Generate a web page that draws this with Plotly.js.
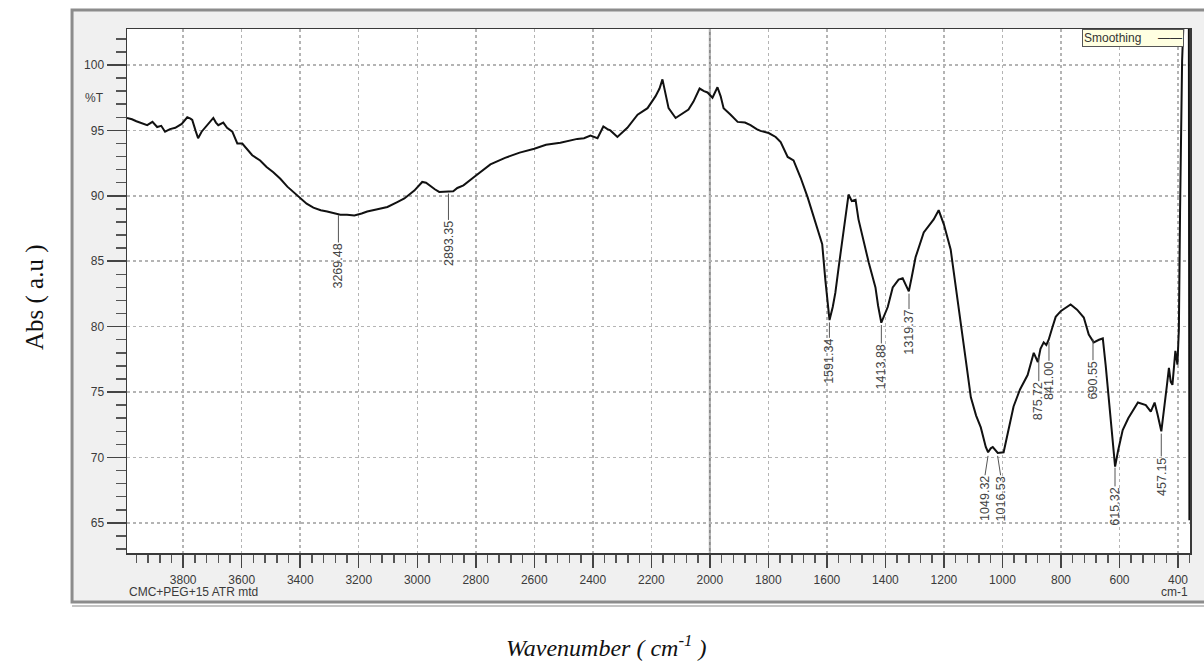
<!DOCTYPE html>
<html>
<head>
<meta charset="utf-8">
<script src="https://cdn.plot.ly/plotly-3.0.1.min.js"></script>
<style>
  html, body { margin: 0; padding: 0; background: #ffffff; }
  #chart { width: 1204px; height: 663px; }
</style>
</head>
<body>
<div id="chart"></div>
<script>
// ---- Data ----
const wavenumber = [
  3992, 3975, 3960, 3940, 3923, 3905, 3889, 3875, 3862, 3845, 3827, 3805, 3786, 3775, 3769, 3758, 3749,
  3737, 3725, 3710, 3697, 3688, 3680, 3663, 3650, 3632, 3615, 3598, 3580, 3564, 3537, 3515, 3492,
  3468, 3444, 3420, 3400, 3378, 3355, 3330, 3308, 3290, 3263, 3240, 3215, 3190, 3171, 3140, 3102,
  3070, 3044, 3010, 2983, 2970, 2959, 2940, 2925, 2897, 2877, 2863, 2842, 2808, 2780, 2750, 2700,
  2650, 2600, 2560, 2511, 2480, 2453, 2430, 2408, 2384, 2364, 2350, 2340, 2316, 2300, 2282, 2247,
  2213, 2186, 2172, 2162, 2152, 2141, 2117, 2095, 2073, 2056, 2035, 2020, 2008, 1991, 1982, 1974,
  1963, 1953, 1929, 1905, 1880, 1861, 1840, 1827, 1799, 1775, 1758, 1745, 1734, 1714, 1690, 1666,
  1645, 1628, 1616, 1605, 1591, 1580, 1571, 1560, 1547, 1536, 1526, 1515, 1502, 1492, 1475, 1457,
  1434, 1425, 1414, 1405, 1392, 1375, 1365, 1355, 1341, 1332, 1320, 1310, 1297, 1269, 1235, 1218,
  1200, 1177, 1160, 1143, 1125, 1108, 1090, 1074, 1057, 1049, 1040, 1033, 1016, 996, 980, 962,
  940, 914, 893, 879, 870, 859, 850, 842, 830, 818, 800, 767, 745, 722, 705, 688,
  670, 657, 647, 637, 625, 615, 605, 589, 570, 537, 510, 493, 480, 476, 470, 457,
  445, 438, 431, 425, 419, 413, 409, 402, 397, 393, 386, 380, 363, 361
];
const transmittance = [
  95.95, 95.85, 95.7, 95.55, 95.4, 95.65, 95.26, 95.35, 94.9, 95.1, 95.2, 95.5, 96.0, 95.9, 95.8, 95.0, 94.4,
  94.9, 95.2, 95.6, 95.95, 95.6, 95.4, 95.6, 95.2, 94.9, 94.0, 94.0, 93.5, 93.1, 92.7, 92.2, 91.8,
  91.3, 90.7, 90.2, 89.8, 89.4, 89.1, 88.9, 88.8, 88.7, 88.55, 88.55, 88.5, 88.65, 88.8, 88.95, 89.15,
  89.5, 89.8, 90.4, 91.06, 91.0, 90.8, 90.5, 90.3, 90.3, 90.35, 90.6, 90.8, 91.4, 91.9, 92.4, 92.9,
  93.3, 93.6, 93.9, 94.05, 94.2, 94.35, 94.4, 94.6, 94.4, 95.3, 95.1, 95.0, 94.5, 94.8, 95.2, 96.2,
  96.7, 97.6, 98.2, 98.9, 97.8, 96.7, 95.95, 96.3, 96.6, 97.2, 98.2, 98.0, 97.9, 97.5, 98.0, 98.3,
  97.6, 96.7, 96.2, 95.65, 95.6, 95.4, 95.1, 94.96, 94.8, 94.5, 94.1, 93.5, 92.97, 92.7, 91.4, 89.9,
  88.4, 87.2, 86.3, 83.5, 80.5, 81.5, 82.6, 84.5, 86.6, 88.2, 90.1, 89.6, 89.7, 88.2, 86.5, 84.9,
  83.0, 81.6, 80.3, 80.8, 81.5, 83.0, 83.3, 83.6, 83.7, 83.3, 82.7, 83.8, 85.3, 87.2, 88.2, 88.9,
  87.8, 85.9, 83.0, 80.3, 77.4, 74.6, 73.2, 72.3, 70.8, 70.4, 70.7, 70.8, 70.35, 70.4, 72.0, 73.9,
  75.2, 76.3, 78.0, 77.3, 78.3, 78.8, 78.6, 79.0, 79.9, 80.75, 81.2, 81.7, 81.3, 80.7, 79.4, 78.8,
  79.0, 79.1, 77.0, 74.6, 71.5, 69.3, 70.5, 72.1, 73.0, 74.2, 74.0, 73.5, 74.2, 73.9, 73.3, 72.0,
  74.0, 75.5, 76.85, 75.8, 75.55, 77.0, 78.15, 77.1, 79.8, 88.7, 100.3, 104, 104, 65.2
];

// Peak labels
const peakWn = [3269.48, 2893.35, 1591.34, 1413.88, 1319.37, 1049.32, 1016.53, 875.72, 841.00, 690.55, 615.32, 457.15];
const peakT  = [88.6, 90.25, 80.4, 80.2, 82.6, 70.2, 70.2, 77.8, 78.9, 79.1, 69.3, 71.9];
const peakText = ["3269.48", "2893.35", "1591.34", "1413.88", "1319.37", "1049.32", "1016.53", "875.72", "841.00", "690.55", "615.32", "457.15"];

// Axis ticks
const xTickVals = [3800, 3600, 3400, 3200, 3000, 2800, 2600, 2400, 2200, 2000, 1800, 1600, 1400, 1200, 1000, 800, 600, 400];
const yTickVals = [65, 70, 75, 80, 85, 90, 95, 100];

// label placement (pixel drop of label centre below the peak point, horizontal nudge)
const labelDrop  = [52, 51, 40, 43, 40, 44, 44, 46, 40, 42, 40, 44];
const labelNudge = [0, 0, 0, 0, 0, -3, 3, 0, 0, 0, 0, 0];
const labelFontSize = 12.5;

const tickFont = { family: "Liberation Sans, Arial, sans-serif", size: 12, color: "#3a3a3a" };

const trace = {
  x: wavenumber,
  y: transmittance,
  type: "scatter",
  mode: "lines",
  line: { color: "#111111", width: 2 },
  showlegend: false,
  hoverinfo: "x+y"
};

const annotations = [];
const shapes = [
  // instrument window panel
  { type: "rect", xref: "paper", yref: "paper", x0: -0.0517, x1: 1.03, y0: -0.0935, y1: 1.0363,
    fillcolor: "#f0f0f0", line: { color: "#8c8c8c", width: 3 }, layer: "below" },
  { type: "line", xref: "paper", yref: "paper", x0: -0.0517, x1: 1.03, y0: -0.1011, y1: -0.1011,
    line: { color: "#c4c4c4", width: 2 }, layer: "below" },
  // white plot area
  { type: "rect", xref: "paper", yref: "paper", x0: 0, x1: 1, y0: 0, y1: 1,
    fillcolor: "#ffffff", line: { width: 0 }, layer: "below" },
  // vertical cursor line at 2000
  { type: "line", xref: "x", yref: "paper", x0: 2000, x1: 2000, y0: 0, y1: 1,
    line: { color: "#8a8a8a", width: 2 }, layer: "below" }
];

peakWn.forEach((w, i) => {
  const halfText = peakText[i].length * labelFontSize * 0.27;
  annotations.push({
    x: w, y: peakT[i], xref: "x", yref: "y",
    text: peakText[i], textangle: -90, showarrow: false,
    xanchor: "center", yanchor: "middle",
    xshift: labelNudge[i], yshift: -labelDrop[i],
    font: { family: "Liberation Sans, Arial, sans-serif", size: labelFontSize, color: "#444444" }
  });
  shapes.push({
    type: "line", xref: "x", yref: "y",
    xsizemode: "pixel", xanchor: w, x0: 0, x1: labelNudge[i],
    ysizemode: "pixel", yanchor: peakT[i], y0: -1, y1: -(labelDrop[i] - halfText),
    line: { color: "#555555", width: 1 }, layer: "above"
  });
});

annotations.push(
  { xref: "paper", yref: "y", x: -0.02, y: 97.5, xanchor: "right", yanchor: "middle",
    text: "%T", showarrow: false, font: tickFont },
  { xref: "paper", yref: "paper", x: 0.0, y: -0.0744, xanchor: "left", yanchor: "middle",
    text: "CMC+PEG+15 ATR mtd", showarrow: false, font: tickFont },
  { xref: "paper", yref: "paper", x: 1.0, y: -0.0744, xanchor: "right", yanchor: "middle",
    text: "cm-1", showarrow: false, font: tickFont },
  { xref: "paper", yref: "paper", x: 0.9944, y: 1.0, xanchor: "right", yanchor: "top",
    text: "Smoothing&nbsp;&nbsp;&nbsp;&nbsp;&nbsp;——", showarrow: false, align: "left",
    bgcolor: "#ffffe1", bordercolor: "#555555", borderwidth: 1, borderpad: 1,
    font: { family: "Liberation Sans, Arial, sans-serif", size: 12, color: "#333333" } },
  { xref: "paper", yref: "paper", x: 0.4506, y: -0.1775, xanchor: "center", yanchor: "middle",
    text: "<i>Wavenumber ( cm<sup>-1</sup> )</i>", showarrow: false,
    font: { family: "Liberation Serif, Times New Roman, serif", size: 24, color: "#111111" } },
  { xref: "paper", yref: "paper", x: -0.0865, y: 0.4885, xanchor: "center", yanchor: "middle",
    text: "Abs ( a.u )", textangle: -90, showarrow: false,
    font: { family: "Liberation Serif, Times New Roman, serif", size: 25, color: "#111111" } }
);

const layout = {
  width: 1204, height: 663,
  margin: { l: 127, r: 14, t: 29, b: 110 },
  paper_bgcolor: "#ffffff",
  plot_bgcolor: "#ffffff",
  showlegend: false,
  xaxis: {
    range: [3992, 359],
    tickmode: "array", tickvals: xTickVals,
    ticks: "outside", ticklen: 13, tickwidth: 1.5, tickcolor: "#444444",
    ticklabelstandoff: 2,
    tickfont: tickFont,
    showgrid: true, gridcolor: "#b4b4b4", gridwidth: 1.5, griddash: "dot",
    minor: { dtick: 40, tick0: 0, ticks: "outside", ticklen: 8, tickwidth: 1.5, tickcolor: "#555555", showgrid: false },
    showline: true, linecolor: "#3a3a3a", linewidth: 1.5, mirror: true,
    zeroline: false
  },
  yaxis: {
    range: [62.7, 102.75],
    tickmode: "array", tickvals: yTickVals,
    ticks: "outside", ticklen: 19, tickwidth: 1.5, tickcolor: "#444444",
    tickfont: tickFont,
    showgrid: true, gridcolor: "#b4b4b4", gridwidth: 1.5, griddash: "dot",
    minor: { dtick: 1, tick0: 0, ticks: "outside", ticklen: 10, tickwidth: 1.5, tickcolor: "#555555", showgrid: false },
    showline: true, linecolor: "#3a3a3a", linewidth: 1.5, mirror: true,
    zeroline: false
  },
  annotations: annotations,
  shapes: shapes
};

Plotly.newPlot("chart", [trace], layout, { displayModeBar: false, staticPlot: true });
</script>
</body>
</html>
